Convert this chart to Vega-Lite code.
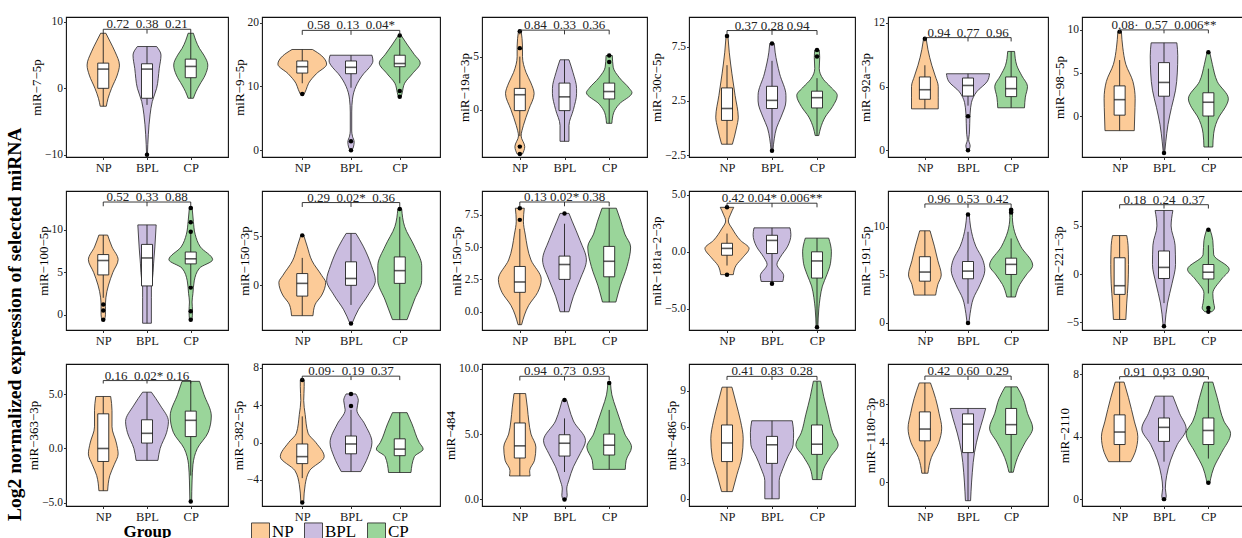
{
"$schema":"https://vega.github.io/schema/vega-lite/v6.json",
"padding":{"left":4,"top":15,"right":0,"bottom":0},
"title":{"text":"Log2 normalized expression of selected miRNA","orient":"left","anchor":"start","fontSize":19.5,"fontWeight":"bold","font":"Liberation Serif","color":"#000","offset":2,"dx":22},
"columns":6,
"spacing":{"row":13,"column":2},
"resolve":{"scale":{"fill":"shared"}},
"config":{
"font":"Liberation Serif",
"view":{"stroke":"#111","strokeWidth":1.1},
"axis":{"grid":false,"domain":false,"ticks":true,"tickSize":2.5,"tickColor":"#333","labelFont":"Liberation Serif","titleFont":"Liberation Serif","labelFontSize":11.5,"labelColor":"#1a1a1a","labelPadding":1,"titleFontSize":13,"titleFontWeight":"normal","titlePadding":1,"titleColor":"#000"},
"axisX":{"labelFontSize":12.5,"labelPadding":2},
"area":{"stroke":"#222","strokeWidth":0.8,"interpolate":"monotone","fillOpacity":1},
"rule":{"color":"#222","strokeWidth":0.9},
"bar":{"fill":"white","stroke":"#222","strokeWidth":0.9,"continuousBandSize":11},
"tick":{"bandSize":11,"thickness":1.6,"color":"#111"},
"circle":{"size":20,"color":"#000","opacity":1},
"line":{"color":"#222","strokeWidth":0.9},
"text":{"font":"Liberation Serif","fontSize":13,"baseline":"alphabetic","dy":-1,"color":"#222"},
"legend":{"orient":"none","legendX":185,"legendY":505,"direction":"horizontal","symbolType":"square","symbolSize":324,"symbolStrokeColor":"#222","symbolStrokeWidth":1,"labelFontSize":17,"labelFont":"Liberation Serif","labelColor":"#000","labelOffset":2,"columnPadding":8}
},
"datasets":{
"d1":[
{"k":"v","g":"NP","y":8.3,"l":0.94,"r":1.06},{"k":"v","g":"NP","y":7,"l":0.84,"r":1.16},{"k":"v","g":"NP","y":5.5,"l":0.73,"r":1.27},{"k":"v","g":"NP","y":3.5,"l":0.63,"r":1.37},{"k":"v","g":"NP","y":2,"l":0.68,"r":1.32},{"k":"v","g":"NP","y":0,"l":0.81,"r":1.19},{"k":"v","g":"NP","y":-1.5,"l":0.89,"r":1.11},{"k":"v","g":"NP","y":-2.7,"l":0.93,"r":1.07},
{"k":"v","g":"BPL","y":6.3,"l":1.78,"r":2.22},{"k":"v","g":"BPL","y":5,"l":1.68,"r":2.32},{"k":"v","g":"BPL","y":3,"l":1.72,"r":2.28},{"k":"v","g":"BPL","y":0,"l":1.78,"r":2.22},{"k":"v","g":"BPL","y":-2,"l":1.88,"r":2.12},{"k":"v","g":"BPL","y":-4,"l":1.93,"r":2.07},{"k":"v","g":"BPL","y":-7,"l":1.97,"r":2.03},{"k":"v","g":"BPL","y":-10,"l":1.99,"r":2.01},
{"k":"v","g":"CP","y":8.3,"l":2.94,"r":3.06},{"k":"v","g":"CP","y":6,"l":2.8,"r":3.2},{"k":"v","g":"CP","y":5,"l":2.7,"r":3.3},{"k":"v","g":"CP","y":3.5,"l":2.61,"r":3.39},{"k":"v","g":"CP","y":2,"l":2.67,"r":3.33},{"k":"v","g":"CP","y":0.5,"l":2.8,"r":3.2},{"k":"v","g":"CP","y":-0.5,"l":2.88,"r":3.12},{"k":"v","g":"CP","y":-1.5,"l":2.94,"r":3.06},
{"k":"b","gi":1,"q1":0,"md":2.9,"q3":3.8,"lo":-2.7,"hi":8.3,"yb":8.9,"yt":8.25},{"k":"b","gi":2,"q1":-1.5,"md":2.9,"q3":3.7,"lo":-2.5,"hi":6.3,"yb":8.9,"yt":8.25,"t":"0.72\u00a0\u00a00.38\u00a0\u00a00.21"},{"k":"b","gi":3,"q1":1.6,"md":3.3,"q3":4.4,"lo":-1.5,"hi":8.3,"yb":8.9,"yt":8.25},
{"k":"o","gi":2,"y":-10}],
"d2":[
{"k":"v","g":"NP","y":15.8,"l":0.79,"r":1.21},{"k":"v","g":"NP","y":14.8,"l":0.6,"r":1.4},{"k":"v","g":"NP","y":13.5,"l":0.5,"r":1.5},{"k":"v","g":"NP","y":12,"l":0.71,"r":1.29},{"k":"v","g":"NP","y":10.5,"l":0.87,"r":1.13},{"k":"v","g":"NP","y":9.5,"l":0.92,"r":1.08},{"k":"v","g":"NP","y":8.8,"l":0.96,"r":1.04},
{"k":"v","g":"BPL","y":14.9,"l":1.57,"r":2.43},{"k":"v","g":"BPL","y":14,"l":1.55,"r":2.45},{"k":"v","g":"BPL","y":13,"l":1.62,"r":2.38},{"k":"v","g":"BPL","y":12,"l":1.74,"r":2.26},{"k":"v","g":"BPL","y":10,"l":1.9,"r":2.1},{"k":"v","g":"BPL","y":8,"l":1.97,"r":2.03},{"k":"v","g":"BPL","y":6,"l":1.985,"r":2.015},{"k":"v","g":"BPL","y":3,"l":1.985,"r":2.015},{"k":"v","g":"BPL","y":2.2,"l":1.97,"r":2.03},{"k":"v","g":"BPL","y":1.3,"l":1.935,"r":2.065},{"k":"v","g":"BPL","y":0.5,"l":1.95,"r":2.05},{"k":"v","g":"BPL","y":0,"l":1.98,"r":2.02},
{"k":"v","g":"CP","y":18,"l":2.97,"r":3.03},{"k":"v","g":"CP","y":16.5,"l":2.84,"r":3.16},{"k":"v","g":"CP","y":15,"l":2.7,"r":3.3},{"k":"v","g":"CP","y":13.7,"l":2.58,"r":3.42},{"k":"v","g":"CP","y":12,"l":2.74,"r":3.26},{"k":"v","g":"CP","y":10.5,"l":2.9,"r":3.1},{"k":"v","g":"CP","y":9,"l":2.95,"r":3.05},{"k":"v","g":"CP","y":8.4,"l":2.97,"r":3.03},
{"k":"b","gi":1,"q1":12.1,"md":13.1,"q3":14,"lo":10.5,"hi":15.8,"yb":18.8,"yt":18.1},{"k":"b","gi":2,"q1":12,"md":13,"q3":14,"lo":9.8,"hi":14.9,"yb":18.8,"yt":18.1,"t":"0.58\u00a0\u00a00.13\u00a0\u00a00.04*"},{"k":"b","gi":3,"q1":13.1,"md":13.6,"q3":14.9,"lo":10.5,"hi":17.5,"yb":18.8,"yt":18.1},
{"k":"o","gi":1,"y":8.8},{"k":"o","gi":2,"y":1.4},{"k":"o","gi":2,"y":0},{"k":"o","gi":3,"y":18},{"k":"o","gi":3,"y":9.3},{"k":"o","gi":3,"y":8.4}],
"d3":[
{"k":"v","g":"NP","y":7.4,"l":0.97,"r":1.03},{"k":"v","g":"NP","y":6,"l":0.94,"r":1.06},{"k":"v","g":"NP","y":5,"l":0.94,"r":1.06},{"k":"v","g":"NP","y":3.5,"l":0.86,"r":1.14},{"k":"v","g":"NP","y":2.5,"l":0.75,"r":1.25},{"k":"v","g":"NP","y":1.5,"l":0.68,"r":1.32},{"k":"v","g":"NP","y":0,"l":0.8,"r":1.2},{"k":"v","g":"NP","y":-1.5,"l":0.92,"r":1.08},{"k":"v","g":"NP","y":-2.5,"l":0.97,"r":1.03},{"k":"v","g":"NP","y":-3.5,"l":0.89,"r":1.11},{"k":"v","g":"NP","y":-4.2,"l":0.94,"r":1.06},
{"k":"v","g":"BPL","y":4.7,"l":1.9,"r":2.1},{"k":"v","g":"BPL","y":3.5,"l":1.81,"r":2.19},{"k":"v","g":"BPL","y":2,"l":1.73,"r":2.27},{"k":"v","g":"BPL","y":1.5,"l":1.73,"r":2.27},{"k":"v","g":"BPL","y":0,"l":1.8,"r":2.2},{"k":"v","g":"BPL","y":-1.5,"l":1.9,"r":2.1},{"k":"v","g":"BPL","y":-3,"l":1.9,"r":2.1},
{"k":"v","g":"CP","y":5.1,"l":2.93,"r":3.07},{"k":"v","g":"CP","y":4,"l":2.91,"r":3.09},{"k":"v","g":"CP","y":3,"l":2.77,"r":3.23},{"k":"v","g":"CP","y":2,"l":2.55,"r":3.45},{"k":"v","g":"CP","y":1.6,"l":2.49,"r":3.51},{"k":"v","g":"CP","y":0.5,"l":2.78,"r":3.22},{"k":"v","g":"CP","y":-0.3,"l":2.9,"r":3.1},{"k":"v","g":"CP","y":-1.3,"l":2.94,"r":3.06},
{"k":"b","gi":1,"q1":-0.1,"md":1.4,"q3":2,"lo":-2.5,"hi":5,"yb":7.5,"yt":7.1},{"k":"b","gi":2,"q1":-0.1,"md":1.2,"q3":2.5,"lo":-3,"hi":4.7,"yb":7.5,"yt":7.1,"t":"0.84\u00a0\u00a00.33\u00a0\u00a00.36"},{"k":"b","gi":3,"q1":1,"md":1.7,"q3":2.5,"lo":-1.3,"hi":4,"yb":7.5,"yt":7.1},
{"k":"o","gi":1,"y":7.4},{"k":"o","gi":1,"y":5.8},{"k":"o","gi":1,"y":-3.5},{"k":"o","gi":1,"y":-4.2},{"k":"o","gi":3,"y":5.1},{"k":"o","gi":3,"y":4.5}],
"d4":[
{"k":"v","g":"NP","y":8.5,"l":0.98,"r":1.02},{"k":"v","g":"NP","y":7,"l":0.95,"r":1.05},{"k":"v","g":"NP","y":5,"l":0.89,"r":1.11},{"k":"v","g":"NP","y":3,"l":0.82,"r":1.18},{"k":"v","g":"NP","y":1,"l":0.75,"r":1.25},{"k":"v","g":"NP","y":0,"l":0.79,"r":1.21},{"k":"v","g":"NP","y":-1.5,"l":0.88,"r":1.12},
{"k":"v","g":"BPL","y":7.8,"l":1.95,"r":2.05},{"k":"v","g":"BPL","y":7,"l":1.93,"r":2.07},{"k":"v","g":"BPL","y":5,"l":1.83,"r":2.17},{"k":"v","g":"BPL","y":3,"l":1.69,"r":2.31},{"k":"v","g":"BPL","y":2.5,"l":1.69,"r":2.31},{"k":"v","g":"BPL","y":1,"l":1.8,"r":2.2},{"k":"v","g":"BPL","y":0,"l":1.9,"r":2.1},{"k":"v","g":"BPL","y":-1,"l":1.95,"r":2.05},{"k":"v","g":"BPL","y":-2.1,"l":1.98,"r":2.02},
{"k":"v","g":"CP","y":7.2,"l":2.95,"r":3.05},{"k":"v","g":"CP","y":6.5,"l":2.94,"r":3.06},{"k":"v","g":"CP","y":5.5,"l":2.95,"r":3.05},{"k":"v","g":"CP","y":4.5,"l":2.86,"r":3.14},{"k":"v","g":"CP","y":3.8,"l":2.7,"r":3.3},{"k":"v","g":"CP","y":3,"l":2.55,"r":3.45},{"k":"v","g":"CP","y":2,"l":2.65,"r":3.35},{"k":"v","g":"CP","y":1,"l":2.82,"r":3.18},{"k":"v","g":"CP","y":0,"l":2.92,"r":3.08},{"k":"v","g":"CP","y":-0.7,"l":2.96,"r":3.04},
{"k":"b","gi":1,"q1":0.7,"md":1.8,"q3":3.7,"lo":-1.5,"hi":5.8,"yb":9,"yt":8.6},{"k":"b","gi":2,"q1":1.8,"md":2.55,"q3":3.85,"lo":-2,"hi":6.2,"yb":9,"yt":8.6,"t":"0.37 0.28 0.94"},{"k":"b","gi":3,"q1":1.85,"md":2.8,"q3":3.4,"lo":-0.7,"hi":4.6,"yb":9,"yt":8.6},
{"k":"o","gi":1,"y":8.5},{"k":"o","gi":2,"y":7.8},{"k":"o","gi":2,"y":-2.1},{"k":"o","gi":3,"y":7.2},{"k":"o","gi":3,"y":6.6}],
"d5":[
{"k":"v","g":"NP","y":10.5,"l":0.97,"r":1.03},{"k":"v","g":"NP","y":9.5,"l":0.93,"r":1.07},{"k":"v","g":"NP","y":8,"l":0.84,"r":1.16},{"k":"v","g":"NP","y":7,"l":0.76,"r":1.24},{"k":"v","g":"NP","y":6,"l":0.69,"r":1.31},{"k":"v","g":"NP","y":5,"l":0.69,"r":1.31},{"k":"v","g":"NP","y":3.9,"l":0.69,"r":1.31},
{"k":"v","g":"BPL","y":7.2,"l":1.5,"r":2.5},{"k":"v","g":"BPL","y":6.5,"l":1.55,"r":2.45},{"k":"v","g":"BPL","y":5.5,"l":1.8,"r":2.2},{"k":"v","g":"BPL","y":4.5,"l":1.92,"r":2.08},{"k":"v","g":"BPL","y":3.5,"l":1.95,"r":2.05},{"k":"v","g":"BPL","y":2.5,"l":1.96,"r":2.04},{"k":"v","g":"BPL","y":1.5,"l":1.97,"r":2.03},{"k":"v","g":"BPL","y":1,"l":1.985,"r":2.015},{"k":"v","g":"BPL","y":0.4,"l":1.95,"r":2.05},{"k":"v","g":"BPL","y":0,"l":1.98,"r":2.02},
{"k":"v","g":"CP","y":9.3,"l":2.92,"r":3.08},{"k":"v","g":"CP","y":8,"l":2.87,"r":3.13},{"k":"v","g":"CP","y":7,"l":2.75,"r":3.25},{"k":"v","g":"CP","y":6,"l":2.62,"r":3.38},{"k":"v","g":"CP","y":5,"l":2.67,"r":3.33},{"k":"v","g":"CP","y":4,"l":2.69,"r":3.31},
{"k":"b","gi":1,"q1":4.8,"md":5.7,"q3":6.9,"lo":3.9,"hi":8,"yb":10.6,"yt":10.24},{"k":"b","gi":2,"q1":5.1,"md":6.1,"q3":6.8,"lo":4.2,"hi":7.2,"yb":10.6,"yt":10.24,"t":"0.94\u00a0\u00a00.77\u00a0\u00a00.96"},{"k":"b","gi":3,"q1":5.05,"md":5.8,"q3":6.9,"lo":4,"hi":9.3,"yb":10.6,"yt":10.24},
{"k":"o","gi":1,"y":10.5},{"k":"o","gi":2,"y":3.2},{"k":"o","gi":2,"y":0}],
"d6":[
{"k":"v","g":"NP","y":9.8,"l":0.96,"r":1.04},{"k":"v","g":"NP","y":8,"l":0.93,"r":1.07},{"k":"v","g":"NP","y":6,"l":0.86,"r":1.14},{"k":"v","g":"NP","y":4,"l":0.7,"r":1.3},{"k":"v","g":"NP","y":2,"l":0.65,"r":1.35},{"k":"v","g":"NP","y":0,"l":0.66,"r":1.34},{"k":"v","g":"NP","y":-1.7,"l":0.67,"r":1.33},
{"k":"v","g":"BPL","y":8.5,"l":1.71,"r":2.29},{"k":"v","g":"BPL","y":7,"l":1.69,"r":2.31},{"k":"v","g":"BPL","y":5,"l":1.7,"r":2.3},{"k":"v","g":"BPL","y":3,"l":1.74,"r":2.26},{"k":"v","g":"BPL","y":1,"l":1.83,"r":2.17},{"k":"v","g":"BPL","y":-1,"l":1.91,"r":2.09},{"k":"v","g":"BPL","y":-3,"l":1.96,"r":2.04},{"k":"v","g":"BPL","y":-4.3,"l":1.985,"r":2.015},
{"k":"v","g":"CP","y":7.4,"l":2.97,"r":3.03},{"k":"v","g":"CP","y":6,"l":2.91,"r":3.09},{"k":"v","g":"CP","y":4,"l":2.8,"r":3.2},{"k":"v","g":"CP","y":2,"l":2.55,"r":3.45},{"k":"v","g":"CP","y":1,"l":2.62,"r":3.38},{"k":"v","g":"CP","y":0,"l":2.75,"r":3.25},{"k":"v","g":"CP","y":-2,"l":2.88,"r":3.12},{"k":"v","g":"CP","y":-3.6,"l":2.9,"r":3.1},
{"k":"b","gi":1,"q1":0.1,"md":1.9,"q3":3.5,"lo":-1.7,"hi":6.5,"yb":10,"yt":9.6},{"k":"b","gi":2,"q1":2.3,"md":3.9,"q3":6.2,"lo":-4.2,"hi":8.5,"yb":10,"yt":9.6,"t":"0.08·\u00a0\u00a00.57\u00a0\u00a00.006**"},{"k":"b","gi":3,"q1":0,"md":1.6,"q3":2.7,"lo":-3.6,"hi":5.5,"yb":10,"yt":9.6},
{"k":"o","gi":1,"y":9.8},{"k":"o","gi":2,"y":-4.3},{"k":"o","gi":3,"y":7.4}],
"d7":[
{"k":"v","g":"NP","y":9.4,"l":0.9,"r":1.1},{"k":"v","g":"NP","y":8,"l":0.8,"r":1.2},{"k":"v","g":"NP","y":6.5,"l":0.66,"r":1.34},{"k":"v","g":"NP","y":5,"l":0.78,"r":1.22},{"k":"v","g":"NP","y":3.5,"l":0.88,"r":1.12},{"k":"v","g":"NP","y":2,"l":0.94,"r":1.06},{"k":"v","g":"NP","y":1,"l":0.95,"r":1.05},{"k":"v","g":"NP","y":0,"l":0.95,"r":1.05},{"k":"v","g":"NP","y":-0.6,"l":0.97,"r":1.03},
{"k":"v","g":"BPL","y":10.6,"l":1.79,"r":2.21},{"k":"v","g":"BPL","y":8,"l":1.82,"r":2.18},{"k":"v","g":"BPL","y":6,"l":1.85,"r":2.15},{"k":"v","g":"BPL","y":4,"l":1.88,"r":2.12},{"k":"v","g":"BPL","y":3.5,"l":1.9,"r":2.1},{"k":"v","g":"BPL","y":2,"l":1.9,"r":2.1},{"k":"v","g":"BPL","y":-1,"l":1.9,"r":2.1},
{"k":"v","g":"CP","y":12.7,"l":2.97,"r":3.03},{"k":"v","g":"CP","y":11,"l":2.94,"r":3.06},{"k":"v","g":"CP","y":9.5,"l":2.9,"r":3.1},{"k":"v","g":"CP","y":8,"l":2.78,"r":3.22},{"k":"v","g":"CP","y":6.5,"l":2.5,"r":3.5},{"k":"v","g":"CP","y":5.5,"l":2.8,"r":3.2},{"k":"v","g":"CP","y":4,"l":2.92,"r":3.08},{"k":"v","g":"CP","y":2.5,"l":2.95,"r":3.05},{"k":"v","g":"CP","y":1.5,"l":2.97,"r":3.03},{"k":"v","g":"CP","y":0.5,"l":2.96,"r":3.04},{"k":"v","g":"CP","y":-0.6,"l":2.97,"r":3.03},
{"k":"b","gi":1,"q1":4.7,"md":6.4,"q3":7.1,"lo":2,"hi":9.4,"yb":13.3,"yt":12.8},{"k":"b","gi":2,"q1":3.4,"md":6.7,"q3":8.3,"lo":-1,"hi":10.6,"yb":13.3,"yt":12.8,"t":"0.52\u00a0\u00a00.33\u00a0\u00a00.88"},{"k":"b","gi":3,"q1":6,"md":6.6,"q3":7.4,"lo":3.5,"hi":9.8,"yb":13.3,"yt":12.8},
{"k":"o","gi":1,"y":1.2},{"k":"o","gi":1,"y":0.5},{"k":"o","gi":1,"y":-0.6},{"k":"o","gi":3,"y":12.6},{"k":"o","gi":3,"y":10.9},{"k":"o","gi":3,"y":9.8},{"k":"o","gi":3,"y":3.2},{"k":"o","gi":3,"y":0.4},{"k":"o","gi":3,"y":-0.6}],
"d8":[
{"k":"v","g":"NP","y":5.1,"l":0.97,"r":1.03},{"k":"v","g":"NP","y":4,"l":0.9,"r":1.1},{"k":"v","g":"NP","y":2.5,"l":0.8,"r":1.2},{"k":"v","g":"NP","y":1,"l":0.6,"r":1.4},{"k":"v","g":"NP","y":0.3,"l":0.52,"r":1.48},{"k":"v","g":"NP","y":-1,"l":0.6,"r":1.4},{"k":"v","g":"NP","y":-2,"l":0.74,"r":1.26},{"k":"v","g":"NP","y":-3.1,"l":0.78,"r":1.22},
{"k":"v","g":"BPL","y":5.3,"l":1.9,"r":2.1},{"k":"v","g":"BPL","y":4,"l":1.75,"r":2.25},{"k":"v","g":"BPL","y":2,"l":1.58,"r":2.42},{"k":"v","g":"BPL","y":0.5,"l":1.5,"r":2.5},{"k":"v","g":"BPL","y":-1,"l":1.65,"r":2.35},{"k":"v","g":"BPL","y":-2.5,"l":1.85,"r":2.15},{"k":"v","g":"BPL","y":-3.8,"l":1.97,"r":2.03},
{"k":"v","g":"CP","y":7.8,"l":2.96,"r":3.04},{"k":"v","g":"CP","y":6,"l":2.9,"r":3.1},{"k":"v","g":"CP","y":4,"l":2.7,"r":3.3},{"k":"v","g":"CP","y":2,"l":2.55,"r":3.45},{"k":"v","g":"CP","y":0.5,"l":2.55,"r":3.45},{"k":"v","g":"CP","y":-1.5,"l":2.7,"r":3.3},{"k":"v","g":"CP","y":-3.5,"l":2.85,"r":3.15},
{"k":"b","gi":1,"q1":-1.1,"md":0.2,"q3":1.2,"lo":-3.1,"hi":2.8,"yb":8.45,"yt":8},{"k":"b","gi":2,"q1":0,"md":0.7,"q3":2.4,"lo":-2,"hi":5.3,"yb":8.45,"yt":8,"t":"0.29\u00a0\u00a00.02*\u00a0\u00a00.36"},{"k":"b","gi":3,"q1":0.2,"md":1.5,"q3":2.9,"lo":-3.5,"hi":7,"yb":8.45,"yt":8},
{"k":"o","gi":1,"y":5.1},{"k":"o","gi":2,"y":-3.9},{"k":"o","gi":3,"y":7.8}],
"d9":[
{"k":"v","g":"NP","y":8,"l":0.9,"r":1.1},{"k":"v","g":"NP","y":7,"l":0.92,"r":1.08},{"k":"v","g":"NP","y":6,"l":0.88,"r":1.12},{"k":"v","g":"NP","y":4,"l":0.75,"r":1.25},{"k":"v","g":"NP","y":2.5,"l":0.52,"r":1.48},{"k":"v","g":"NP","y":1.5,"l":0.6,"r":1.4},{"k":"v","g":"NP","y":0.5,"l":0.8,"r":1.2},{"k":"v","g":"NP","y":-1,"l":0.96,"r":1.04},
{"k":"v","g":"BPL","y":7.6,"l":1.9,"r":2.1},{"k":"v","g":"BPL","y":7,"l":1.83,"r":2.17},{"k":"v","g":"BPL","y":5.5,"l":1.65,"r":2.35},{"k":"v","g":"BPL","y":4,"l":1.51,"r":2.49},{"k":"v","g":"BPL","y":2.5,"l":1.65,"r":2.35},{"k":"v","g":"BPL","y":1.2,"l":1.8,"r":2.2},{"k":"v","g":"BPL","y":0,"l":1.9,"r":2.1},
{"k":"v","g":"CP","y":8,"l":2.84,"r":3.16},{"k":"v","g":"CP","y":7,"l":2.74,"r":3.26},{"k":"v","g":"CP","y":6,"l":2.65,"r":3.35},{"k":"v","g":"CP","y":5,"l":2.52,"r":3.48},{"k":"v","g":"CP","y":3.5,"l":2.6,"r":3.4},{"k":"v","g":"CP","y":2,"l":2.75,"r":3.25},{"k":"v","g":"CP","y":0.75,"l":2.85,"r":3.15},
{"k":"b","gi":1,"q1":1.5,"md":2.3,"q3":3.5,"lo":-1,"hi":6.4,"yb":8.48,"yt":8.15},{"k":"b","gi":2,"q1":2.5,"md":3.65,"q3":4.3,"lo":0,"hi":6.8,"yb":8.48,"yt":8.15,"t":"0.13 0.02* 0.38"},{"k":"b","gi":3,"q1":2.7,"md":3.9,"q3":5.05,"lo":0.75,"hi":8,"yb":8.48,"yt":8.15},
{"k":"o","gi":1,"y":8},{"k":"o","gi":1,"y":7.1},{"k":"o","gi":2,"y":7.6}],
"d10":[
{"k":"v","g":"NP","y":3.9,"l":0.85,"r":1.15},{"k":"v","g":"NP","y":3.3,"l":0.92,"r":1.08},{"k":"v","g":"NP","y":2.7,"l":0.97,"r":1.03},{"k":"v","g":"NP","y":2,"l":0.88,"r":1.12},{"k":"v","g":"NP","y":1,"l":0.7,"r":1.3},{"k":"v","g":"NP","y":0.3,"l":0.51,"r":1.49},{"k":"v","g":"NP","y":-0.5,"l":0.65,"r":1.35},{"k":"v","g":"NP","y":-1.2,"l":0.8,"r":1.2},{"k":"v","g":"NP","y":-2,"l":0.86,"r":1.14},
{"k":"v","g":"BPL","y":2.1,"l":1.6,"r":2.4},{"k":"v","g":"BPL","y":1.5,"l":1.58,"r":2.42},{"k":"v","g":"BPL","y":0.5,"l":1.65,"r":2.35},{"k":"v","g":"BPL","y":-0.5,"l":1.82,"r":2.18},{"k":"v","g":"BPL","y":-1.1,"l":1.89,"r":2.11},{"k":"v","g":"BPL","y":-2.1,"l":1.74,"r":2.26},{"k":"v","g":"BPL","y":-2.6,"l":1.76,"r":2.24},
{"k":"v","g":"CP","y":1.2,"l":2.74,"r":3.26},{"k":"v","g":"CP","y":0,"l":2.68,"r":3.32},{"k":"v","g":"CP","y":-1,"l":2.7,"r":3.3},{"k":"v","g":"CP","y":-2,"l":2.78,"r":3.22},{"k":"v","g":"CP","y":-3,"l":2.88,"r":3.12},{"k":"v","g":"CP","y":-4,"l":2.93,"r":3.07},{"k":"v","g":"CP","y":-5,"l":2.96,"r":3.04},{"k":"v","g":"CP","y":-6.6,"l":2.98,"r":3.02},
{"k":"b","gi":1,"q1":-0.3,"md":0.3,"q3":0.75,"lo":-1.2,"hi":1.6,"yb":4.26,"yt":3.9},{"k":"b","gi":2,"q1":-0.15,"md":1,"q3":1.45,"lo":-2.7,"hi":2.1,"yb":4.26,"yt":3.9,"t":"0.42 0.04* 0.006**"},{"k":"b","gi":3,"q1":-2.3,"md":-0.8,"q3":0,"lo":-6.5,"hi":1.2,"yb":4.26,"yt":3.9},
{"k":"o","gi":1,"y":3.9},{"k":"o","gi":1,"y":-2},{"k":"o","gi":2,"y":-2.8},{"k":"o","gi":3,"y":-6.6}],
"d11":[
{"k":"v","g":"NP","y":9.6,"l":0.88,"r":1.12},{"k":"v","g":"NP","y":8,"l":0.78,"r":1.22},{"k":"v","g":"NP","y":6.5,"l":0.7,"r":1.3},{"k":"v","g":"NP","y":5,"l":0.62,"r":1.38},{"k":"v","g":"NP","y":4,"l":0.7,"r":1.3},{"k":"v","g":"NP","y":2.9,"l":0.75,"r":1.25},
{"k":"v","g":"BPL","y":11.3,"l":1.97,"r":2.03},{"k":"v","g":"BPL","y":10,"l":1.94,"r":2.06},{"k":"v","g":"BPL","y":8,"l":1.82,"r":2.18},{"k":"v","g":"BPL","y":6.5,"l":1.65,"r":2.35},{"k":"v","g":"BPL","y":5.5,"l":1.61,"r":2.39},{"k":"v","g":"BPL","y":4,"l":1.72,"r":2.28},{"k":"v","g":"BPL","y":2.5,"l":1.88,"r":2.12},{"k":"v","g":"BPL","y":1,"l":1.95,"r":2.05},{"k":"v","g":"BPL","y":0,"l":1.98,"r":2.02},
{"k":"v","g":"CP","y":11.8,"l":2.96,"r":3.04},{"k":"v","g":"CP","y":11,"l":2.97,"r":3.03},{"k":"v","g":"CP","y":9.5,"l":2.92,"r":3.08},{"k":"v","g":"CP","y":8,"l":2.78,"r":3.22},{"k":"v","g":"CP","y":6,"l":2.5,"r":3.5},{"k":"v","g":"CP","y":5,"l":2.65,"r":3.35},{"k":"v","g":"CP","y":4,"l":2.8,"r":3.2},{"k":"v","g":"CP","y":2.7,"l":2.9,"r":3.1},
{"k":"b","gi":1,"q1":4.35,"md":5.3,"q3":6.9,"lo":2.9,"hi":9.6,"yb":12.4,"yt":12},{"k":"b","gi":2,"q1":4.6,"md":5.4,"q3":6.4,"lo":2,"hi":9.5,"yb":12.4,"yt":12,"t":"0.96\u00a0\u00a00.53\u00a0\u00a00.42"},{"k":"b","gi":3,"q1":5.05,"md":6.1,"q3":6.75,"lo":2.7,"hi":8.8,"yb":12.4,"yt":12},
{"k":"o","gi":2,"y":11.3},{"k":"o","gi":2,"y":0},{"k":"o","gi":3,"y":11.8},{"k":"o","gi":3,"y":11.5}],
"d12":[
{"k":"v","g":"NP","y":4,"l":0.84,"r":1.16},{"k":"v","g":"NP","y":3,"l":0.81,"r":1.19},{"k":"v","g":"NP","y":1,"l":0.8,"r":1.2},{"k":"v","g":"NP","y":-1,"l":0.81,"r":1.19},{"k":"v","g":"NP","y":-3,"l":0.84,"r":1.16},{"k":"v","g":"NP","y":-4.7,"l":0.86,"r":1.14},
{"k":"v","g":"BPL","y":6.6,"l":1.8,"r":2.2},{"k":"v","g":"BPL","y":5,"l":1.84,"r":2.16},{"k":"v","g":"BPL","y":3,"l":1.75,"r":2.25},{"k":"v","g":"BPL","y":1,"l":1.74,"r":2.26},{"k":"v","g":"BPL","y":-1,"l":1.82,"r":2.18},{"k":"v","g":"BPL","y":-3,"l":1.92,"r":2.08},{"k":"v","g":"BPL","y":-5.3,"l":1.98,"r":2.02},
{"k":"v","g":"CP","y":4.6,"l":2.96,"r":3.04},{"k":"v","g":"CP","y":3.5,"l":2.9,"r":3.1},{"k":"v","g":"CP","y":2,"l":2.88,"r":3.12},{"k":"v","g":"CP","y":0.5,"l":2.53,"r":3.47},{"k":"v","g":"CP","y":-0.5,"l":2.7,"r":3.3},{"k":"v","g":"CP","y":-2,"l":2.9,"r":3.1},{"k":"v","g":"CP","y":-3,"l":2.88,"r":3.12},{"k":"v","g":"CP","y":-3.5,"l":2.86,"r":3.14},{"k":"v","g":"CP","y":-3.9,"l":2.92,"r":3.08},
{"k":"b","gi":1,"q1":-2.1,"md":-1.2,"q3":1.7,"lo":-4.7,"hi":4,"yb":7.2,"yt":6.8},{"k":"b","gi":2,"q1":-0.45,"md":0.7,"q3":2.4,"lo":-3,"hi":6.6,"yb":7.2,"yt":6.8,"t":"0.18\u00a0\u00a00.24\u00a0\u00a00.37"},{"k":"b","gi":3,"q1":-0.5,"md":0.2,"q3":1,"lo":-2,"hi":3,"yb":7.2,"yt":6.8},
{"k":"o","gi":2,"y":-5.4},{"k":"o","gi":3,"y":4.6},{"k":"o","gi":3,"y":-3.5},{"k":"o","gi":3,"y":-3.9}],
"d13":[
{"k":"v","g":"NP","y":4.8,"l":0.83,"r":1.17},{"k":"v","g":"NP","y":3.5,"l":0.8,"r":1.2},{"k":"v","g":"NP","y":2,"l":0.8,"r":1.2},{"k":"v","g":"NP","y":0.5,"l":0.7,"r":1.3},{"k":"v","g":"NP","y":-0.5,"l":0.66,"r":1.34},{"k":"v","g":"NP","y":-1.5,"l":0.75,"r":1.25},{"k":"v","g":"NP","y":-2.5,"l":0.85,"r":1.15},{"k":"v","g":"NP","y":-3.9,"l":0.9,"r":1.1},
{"k":"v","g":"BPL","y":5.2,"l":1.9,"r":2.1},{"k":"v","g":"BPL","y":4,"l":1.7,"r":2.3},{"k":"v","g":"BPL","y":2.5,"l":1.51,"r":2.49},{"k":"v","g":"BPL","y":1.5,"l":1.55,"r":2.45},{"k":"v","g":"BPL","y":0,"l":1.7,"r":2.3},{"k":"v","g":"BPL","y":-1.1,"l":1.75,"r":2.25},
{"k":"v","g":"CP","y":6.2,"l":2.8,"r":3.2},{"k":"v","g":"CP","y":5,"l":2.7,"r":3.3},{"k":"v","g":"CP","y":3,"l":2.53,"r":3.47},{"k":"v","g":"CP","y":1.5,"l":2.6,"r":3.4},{"k":"v","g":"CP","y":0,"l":2.85,"r":3.15},{"k":"v","g":"CP","y":-1.5,"l":2.95,"r":3.05},{"k":"v","g":"CP","y":-3,"l":2.97,"r":3.03},{"k":"v","g":"CP","y":-4.9,"l":2.98,"r":3.02},
{"k":"b","gi":1,"q1":-1.2,"md":0,"q3":3.2,"lo":-3.9,"hi":4.8,"yb":6.27,"yt":6},{"k":"b","gi":2,"q1":0.5,"md":1.4,"q3":2.65,"lo":-1.1,"hi":5.2,"yb":6.27,"yt":6,"t":"0.16\u00a0\u00a00.02*\u00a00.16"},{"k":"b","gi":3,"q1":1.1,"md":2.6,"q3":3.45,"lo":-2.5,"hi":6.2,"yb":6.27,"yt":6},
{"k":"o","gi":3,"y":-4.9}],
"d14":[
{"k":"v","g":"NP","y":6.7,"l":0.96,"r":1.04},{"k":"v","g":"NP","y":6,"l":0.96,"r":1.04},{"k":"v","g":"NP","y":4.5,"l":0.97,"r":1.03},{"k":"v","g":"NP","y":3,"l":0.94,"r":1.06},{"k":"v","g":"NP","y":1,"l":0.88,"r":1.12},{"k":"v","g":"NP","y":0,"l":0.72,"r":1.28},{"k":"v","g":"NP","y":-1.5,"l":0.55,"r":1.45},{"k":"v","g":"NP","y":-3,"l":0.85,"r":1.15},{"k":"v","g":"NP","y":-4.5,"l":0.94,"r":1.06},{"k":"v","g":"NP","y":-6.3,"l":0.97,"r":1.03},
{"k":"v","g":"BPL","y":5.2,"l":1.9,"r":2.1},{"k":"v","g":"BPL","y":4.5,"l":1.85,"r":2.15},{"k":"v","g":"BPL","y":3.5,"l":1.88,"r":2.12},{"k":"v","g":"BPL","y":2,"l":1.72,"r":2.28},{"k":"v","g":"BPL","y":0,"l":1.57,"r":2.43},{"k":"v","g":"BPL","y":-1.5,"l":1.65,"r":2.35},{"k":"v","g":"BPL","y":-3.1,"l":1.8,"r":2.2},
{"k":"v","g":"CP","y":3.2,"l":2.85,"r":3.15},{"k":"v","g":"CP","y":2,"l":2.75,"r":3.25},{"k":"v","g":"CP","y":0,"l":2.6,"r":3.4},{"k":"v","g":"CP","y":-0.7,"l":2.52,"r":3.48},{"k":"v","g":"CP","y":-1.5,"l":2.7,"r":3.3},{"k":"v","g":"CP","y":-3.2,"l":2.77,"r":3.23},
{"k":"b","gi":1,"q1":-2.25,"md":-1.5,"q3":-0.15,"lo":-3.8,"hi":2.8,"yb":7.1,"yt":6.68},{"k":"b","gi":2,"q1":-1.2,"md":-0.15,"q3":0.7,"lo":-3.1,"hi":3.5,"yb":7.1,"yt":6.68,"t":"0.09·\u00a0\u00a00.19\u00a0\u00a00.37"},{"k":"b","gi":3,"q1":-1.4,"md":-0.7,"q3":0.4,"lo":-3.2,"hi":3.2,"yb":7.1,"yt":6.68},
{"k":"o","gi":1,"y":6.7},{"k":"o","gi":1,"y":-6.4},{"k":"o","gi":2,"y":5.2},{"k":"o","gi":2,"y":3.9}],
"d15":[
{"k":"v","g":"NP","y":8.1,"l":0.87,"r":1.13},{"k":"v","g":"NP","y":7,"l":0.83,"r":1.17},{"k":"v","g":"NP","y":6,"l":0.8,"r":1.2},{"k":"v","g":"NP","y":5,"l":0.75,"r":1.25},{"k":"v","g":"NP","y":4,"l":0.64,"r":1.36},{"k":"v","g":"NP","y":3,"l":0.67,"r":1.33},{"k":"v","g":"NP","y":2.2,"l":0.78,"r":1.22},{"k":"v","g":"NP","y":1.8,"l":0.77,"r":1.23},
{"k":"v","g":"BPL","y":7.6,"l":1.95,"r":2.05},{"k":"v","g":"BPL","y":7,"l":1.9,"r":2.1},{"k":"v","g":"BPL","y":6,"l":1.8,"r":2.2},{"k":"v","g":"BPL","y":4.5,"l":1.53,"r":2.47},{"k":"v","g":"BPL","y":3.5,"l":1.65,"r":2.35},{"k":"v","g":"BPL","y":2.5,"l":1.8,"r":2.2},{"k":"v","g":"BPL","y":1.5,"l":1.9,"r":2.1},{"k":"v","g":"BPL","y":0.8,"l":1.95,"r":2.05},{"k":"v","g":"BPL","y":0.3,"l":1.94,"r":2.06},{"k":"v","g":"BPL","y":0,"l":1.97,"r":2.03},
{"k":"v","g":"CP","y":8.9,"l":2.97,"r":3.03},{"k":"v","g":"CP","y":8,"l":2.94,"r":3.06},{"k":"v","g":"CP","y":7,"l":2.85,"r":3.15},{"k":"v","g":"CP","y":6,"l":2.75,"r":3.25},{"k":"v","g":"CP","y":5,"l":2.65,"r":3.35},{"k":"v","g":"CP","y":4,"l":2.5,"r":3.5},{"k":"v","g":"CP","y":3,"l":2.62,"r":3.38},{"k":"v","g":"CP","y":2.3,"l":2.64,"r":3.36},
{"k":"b","gi":1,"q1":3.17,"md":4.1,"q3":5.85,"lo":1.8,"hi":8.1,"yb":9.42,"yt":9.1},{"k":"b","gi":2,"q1":3.32,"md":4.3,"q3":4.95,"lo":2.1,"hi":6.2,"yb":9.42,"yt":9.1,"t":"0.94\u00a0\u00a00.73\u00a0\u00a00.93"},{"k":"b","gi":3,"q1":3.4,"md":4.15,"q3":5,"lo":2.3,"hi":6.85,"yb":9.42,"yt":9.1},
{"k":"o","gi":2,"y":7.6},{"k":"o","gi":2,"y":0},{"k":"o","gi":3,"y":8.9}],
"d16":[
{"k":"v","g":"NP","y":9.3,"l":0.89,"r":1.11},{"k":"v","g":"NP","y":8,"l":0.8,"r":1.2},{"k":"v","g":"NP","y":6.5,"l":0.7,"r":1.3},{"k":"v","g":"NP","y":5,"l":0.64,"r":1.36},{"k":"v","g":"NP","y":3.5,"l":0.67,"r":1.33},{"k":"v","g":"NP","y":2,"l":0.78,"r":1.22},{"k":"v","g":"NP","y":0.6,"l":0.88,"r":1.12},
{"k":"v","g":"BPL","y":6.5,"l":1.55,"r":2.45},{"k":"v","g":"BPL","y":5.5,"l":1.52,"r":2.48},{"k":"v","g":"BPL","y":4.5,"l":1.53,"r":2.47},{"k":"v","g":"BPL","y":3.5,"l":1.65,"r":2.35},{"k":"v","g":"BPL","y":2.5,"l":1.76,"r":2.24},{"k":"v","g":"BPL","y":1.5,"l":1.84,"r":2.16},{"k":"v","g":"BPL","y":0,"l":1.84,"r":2.16},
{"k":"v","g":"CP","y":9.8,"l":2.92,"r":3.08},{"k":"v","g":"CP","y":8.5,"l":2.85,"r":3.15},{"k":"v","g":"CP","y":7,"l":2.75,"r":3.25},{"k":"v","g":"CP","y":5.5,"l":2.65,"r":3.35},{"k":"v","g":"CP","y":4.5,"l":2.53,"r":3.47},{"k":"v","g":"CP","y":3.5,"l":2.7,"r":3.3},{"k":"v","g":"CP","y":2.5,"l":2.85,"r":3.15},{"k":"v","g":"CP","y":1.6,"l":2.9,"r":3.1},
{"k":"b","gi":1,"q1":3.1,"md":4.65,"q3":6.15,"lo":0.6,"hi":9.3,"yb":10.2,"yt":9.9},{"k":"b","gi":2,"q1":2.95,"md":4.5,"q3":5.2,"lo":0,"hi":6.5,"yb":10.2,"yt":9.9,"t":"0.41\u00a0\u00a00.83\u00a0\u00a00.28"},{"k":"b","gi":3,"q1":3.7,"md":4.55,"q3":6.15,"lo":1.6,"hi":9.8,"yb":10.2,"yt":9.9}],
"d17":[
{"k":"v","g":"NP","y":10.1,"l":0.87,"r":1.13},{"k":"v","g":"NP","y":8.5,"l":0.75,"r":1.25},{"k":"v","g":"NP","y":7,"l":0.67,"r":1.33},{"k":"v","g":"NP","y":5.5,"l":0.61,"r":1.39},{"k":"v","g":"NP","y":4,"l":0.68,"r":1.32},{"k":"v","g":"NP","y":2.5,"l":0.85,"r":1.15},{"k":"v","g":"NP","y":0.9,"l":0.93,"r":1.07},
{"k":"v","g":"BPL","y":7.5,"l":1.59,"r":2.41},{"k":"v","g":"BPL","y":6.5,"l":1.65,"r":2.35},{"k":"v","g":"BPL","y":5,"l":1.75,"r":2.25},{"k":"v","g":"BPL","y":3,"l":1.85,"r":2.15},{"k":"v","g":"BPL","y":1,"l":1.9,"r":2.1},{"k":"v","g":"BPL","y":-1,"l":1.93,"r":2.07},{"k":"v","g":"BPL","y":-1.9,"l":1.94,"r":2.06},
{"k":"v","g":"CP","y":9.7,"l":2.86,"r":3.14},{"k":"v","g":"CP","y":8.5,"l":2.72,"r":3.28},{"k":"v","g":"CP","y":7,"l":2.62,"r":3.38},{"k":"v","g":"CP","y":5.5,"l":2.5,"r":3.5},{"k":"v","g":"CP","y":4,"l":2.68,"r":3.32},{"k":"v","g":"CP","y":2.5,"l":2.85,"r":3.15},{"k":"v","g":"CP","y":1,"l":2.95,"r":3.05},
{"k":"b","gi":1,"q1":4.2,"md":5.4,"q3":7.15,"lo":0.9,"hi":10.1,"yb":10.8,"yt":10.4},{"k":"b","gi":2,"q1":3,"md":5.9,"q3":6.95,"lo":-1.9,"hi":7.5,"yb":10.8,"yt":10.4,"t":"0.42\u00a0\u00a00.60\u00a0\u00a00.29"},{"k":"b","gi":3,"q1":4.85,"md":5.85,"q3":7.5,"lo":1,"hi":9.7,"yb":10.8,"yt":10.4}],
"d18":[
{"k":"v","g":"NP","y":7.5,"l":0.9,"r":1.1},{"k":"v","g":"NP","y":6.5,"l":0.8,"r":1.2},{"k":"v","g":"NP","y":5,"l":0.67,"r":1.33},{"k":"v","g":"NP","y":4,"l":0.59,"r":1.41},{"k":"v","g":"NP","y":3,"l":0.65,"r":1.35},{"k":"v","g":"NP","y":2.4,"l":0.75,"r":1.25},
{"k":"v","g":"BPL","y":6.6,"l":1.8,"r":2.2},{"k":"v","g":"BPL","y":5.5,"l":1.65,"r":2.35},{"k":"v","g":"BPL","y":4.5,"l":1.5,"r":2.5},{"k":"v","g":"BPL","y":3.5,"l":1.7,"r":2.3},{"k":"v","g":"BPL","y":2.5,"l":1.85,"r":2.15},{"k":"v","g":"BPL","y":1.5,"l":1.94,"r":2.06},{"k":"v","g":"BPL","y":0.7,"l":1.97,"r":2.03},{"k":"v","g":"BPL","y":0.2,"l":1.95,"r":2.05},{"k":"v","g":"BPL","y":-0.05,"l":1.97,"r":2.03},
{"k":"v","g":"CP","y":7.5,"l":2.9,"r":3.1},{"k":"v","g":"CP","y":6.5,"l":2.8,"r":3.2},{"k":"v","g":"CP","y":5,"l":2.65,"r":3.35},{"k":"v","g":"CP","y":4.2,"l":2.5,"r":3.5},{"k":"v","g":"CP","y":3,"l":2.7,"r":3.3},{"k":"v","g":"CP","y":2,"l":2.88,"r":3.12},{"k":"v","g":"CP","y":1.3,"l":2.95,"r":3.05},{"k":"v","g":"CP","y":1,"l":2.97,"r":3.03},
{"k":"b","gi":1,"q1":3.5,"md":4.3,"q3":5.4,"lo":2.4,"hi":7.5,"yb":7.85,"yt":7.67},{"k":"b","gi":2,"q1":3.7,"md":4.6,"q3":5.2,"lo":2.4,"hi":6.6,"yb":7.85,"yt":7.67,"t":"0.91\u00a0\u00a00.93\u00a0\u00a00.90"},{"k":"b","gi":3,"q1":3.5,"md":4.4,"q3":5.2,"lo":2.6,"hi":7.5,"yb":7.85,"yt":7.67},
{"k":"o","gi":2,"y":0},{"k":"o","gi":3,"y":1.05}]
},
"concat":[
{"width":162,"height":140,"data":{"name":"d1"},"layer":[
{"transform":[{"filter":"datum.k=='v'"}],"mark":{"type":"area","orient":"horizontal"},"encoding":{"y":{"field":"y","type":"quantitative","scale":{"domain":[-10.35,10.75],"nice":false,"zero":false},"axis":{"values":[-10,-5,0,5,10],"title":"miR−7−5p"}},"x":{"field":"l","type":"quantitative","scale":{"domain":[0.4,3.6],"nice":false,"zero":false},"axis":{"values":[1,2,3],"labelExpr":"datum.value==1?'NP':datum.value==2?'BPL':'CP'","title":null}},"x2":{"field":"r"},"fill":{"field":"g","type":"nominal","title":null,"scale":{"domain":["NP","BPL","CP"],"range":["#FCCB98","#CBBDE0","#9AD59A"]}}}},
{"transform":[{"filter":"datum.k=='b'"}],"mark":"rule","encoding":{"x":{"field":"gi","type":"quantitative"},"y":{"field":"lo","type":"quantitative"},"y2":{"field":"hi"}}},
{"transform":[{"filter":"datum.k=='b'"}],"mark":"bar","encoding":{"x":{"field":"gi","type":"quantitative"},"y":{"field":"q1","type":"quantitative"},"y2":{"field":"q3"}}},
{"transform":[{"filter":"datum.k=='b'"}],"mark":{"type":"tick","orient":"horizontal","size":11},"encoding":{"x":{"field":"gi","type":"quantitative"},"y":{"field":"md","type":"quantitative"}}},
{"transform":[{"filter":"datum.k=='o'"}],"mark":"circle","encoding":{"x":{"field":"gi","type":"quantitative"},"y":{"field":"y","type":"quantitative"}}},
{"transform":[{"filter":"datum.k=='b'"}],"mark":"line","encoding":{"x":{"field":"gi","type":"quantitative"},"y":{"field":"yb","type":"quantitative"}}},
{"transform":[{"filter":"datum.k=='b'"}],"mark":"rule","encoding":{"x":{"field":"gi","type":"quantitative"},"y":{"field":"yb","type":"quantitative"},"y2":{"field":"yt"}}},
{"transform":[{"filter":"datum.t"}],"mark":"text","encoding":{"x":{"field":"gi","type":"quantitative"},"y":{"field":"yb","type":"quantitative"},"text":{"field":"t"}}}]},
{"width":178,"height":140,"data":{"name":"d2"},"layer":[
{"transform":[{"filter":"datum.k=='v'"}],"mark":{"type":"area","orient":"horizontal"},"encoding":{"y":{"field":"y","type":"quantitative","scale":{"domain":[-1.07,20.9],"nice":false,"zero":false},"axis":{"values":[0,5,10,15,20],"title":"miR−9−5p"}},"x":{"field":"l","type":"quantitative","scale":{"domain":[0.4,3.6],"nice":false,"zero":false},"axis":{"values":[1,2,3],"labelExpr":"datum.value==1?'NP':datum.value==2?'BPL':'CP'","title":null}},"x2":{"field":"r"},"fill":{"field":"g","type":"nominal","title":null,"scale":{"domain":["NP","BPL","CP"],"range":["#FCCB98","#CBBDE0","#9AD59A"]}}}},
{"transform":[{"filter":"datum.k=='b'"}],"mark":"rule","encoding":{"x":{"field":"gi","type":"quantitative"},"y":{"field":"lo","type":"quantitative"},"y2":{"field":"hi"}}},
{"transform":[{"filter":"datum.k=='b'"}],"mark":"bar","encoding":{"x":{"field":"gi","type":"quantitative"},"y":{"field":"q1","type":"quantitative"},"y2":{"field":"q3"}}},
{"transform":[{"filter":"datum.k=='b'"}],"mark":{"type":"tick","orient":"horizontal","size":11},"encoding":{"x":{"field":"gi","type":"quantitative"},"y":{"field":"md","type":"quantitative"}}},
{"transform":[{"filter":"datum.k=='o'"}],"mark":"circle","encoding":{"x":{"field":"gi","type":"quantitative"},"y":{"field":"y","type":"quantitative"}}},
{"transform":[{"filter":"datum.k=='b'"}],"mark":"line","encoding":{"x":{"field":"gi","type":"quantitative"},"y":{"field":"yb","type":"quantitative"}}},
{"transform":[{"filter":"datum.k=='b'"}],"mark":"rule","encoding":{"x":{"field":"gi","type":"quantitative"},"y":{"field":"yb","type":"quantitative"},"y2":{"field":"yt"}}},
{"transform":[{"filter":"datum.t"}],"mark":"text","encoding":{"x":{"field":"gi","type":"quantitative"},"y":{"field":"yb","type":"quantitative"},"text":{"field":"t"}}}]},
{"width":165,"height":140,"data":{"name":"d3"},"layer":[
{"transform":[{"filter":"datum.k=='v'"}],"mark":{"type":"area","orient":"horizontal"},"encoding":{"y":{"field":"y","type":"quantitative","scale":{"domain":[-4.48,8.74],"nice":false,"zero":false},"axis":{"values":[0,5],"title":"miR−19a−3p"}},"x":{"field":"l","type":"quantitative","scale":{"domain":[0.4,3.6],"nice":false,"zero":false},"axis":{"values":[1,2,3],"labelExpr":"datum.value==1?'NP':datum.value==2?'BPL':'CP'","title":null}},"x2":{"field":"r"},"fill":{"field":"g","type":"nominal","title":null,"scale":{"domain":["NP","BPL","CP"],"range":["#FCCB98","#CBBDE0","#9AD59A"]}}}},
{"transform":[{"filter":"datum.k=='b'"}],"mark":"rule","encoding":{"x":{"field":"gi","type":"quantitative"},"y":{"field":"lo","type":"quantitative"},"y2":{"field":"hi"}}},
{"transform":[{"filter":"datum.k=='b'"}],"mark":"bar","encoding":{"x":{"field":"gi","type":"quantitative"},"y":{"field":"q1","type":"quantitative"},"y2":{"field":"q3"}}},
{"transform":[{"filter":"datum.k=='b'"}],"mark":{"type":"tick","orient":"horizontal","size":11},"encoding":{"x":{"field":"gi","type":"quantitative"},"y":{"field":"md","type":"quantitative"}}},
{"transform":[{"filter":"datum.k=='o'"}],"mark":"circle","encoding":{"x":{"field":"gi","type":"quantitative"},"y":{"field":"y","type":"quantitative"}}},
{"transform":[{"filter":"datum.k=='b'"}],"mark":"line","encoding":{"x":{"field":"gi","type":"quantitative"},"y":{"field":"yb","type":"quantitative"}}},
{"transform":[{"filter":"datum.k=='b'"}],"mark":"rule","encoding":{"x":{"field":"gi","type":"quantitative"},"y":{"field":"yb","type":"quantitative"},"y2":{"field":"yt"}}},
{"transform":[{"filter":"datum.t"}],"mark":"text","encoding":{"x":{"field":"gi","type":"quantitative"},"y":{"field":"yb","type":"quantitative"},"text":{"field":"t"}}}]},
{"width":166,"height":140,"data":{"name":"d4"},"layer":[
{"transform":[{"filter":"datum.k=='v'"}],"mark":{"type":"area","orient":"horizontal"},"encoding":{"y":{"field":"y","type":"quantitative","scale":{"domain":[-2.68,10.25],"nice":false,"zero":false},"axis":{"values":[-2.5,0,2.5,5,7.5],"format":".1f","title":"miR−30c−5p"}},"x":{"field":"l","type":"quantitative","scale":{"domain":[0.4,3.6],"nice":false,"zero":false},"axis":{"values":[1,2,3],"labelExpr":"datum.value==1?'NP':datum.value==2?'BPL':'CP'","title":null}},"x2":{"field":"r"},"fill":{"field":"g","type":"nominal","title":null,"scale":{"domain":["NP","BPL","CP"],"range":["#FCCB98","#CBBDE0","#9AD59A"]}}}},
{"transform":[{"filter":"datum.k=='b'"}],"mark":"rule","encoding":{"x":{"field":"gi","type":"quantitative"},"y":{"field":"lo","type":"quantitative"},"y2":{"field":"hi"}}},
{"transform":[{"filter":"datum.k=='b'"}],"mark":"bar","encoding":{"x":{"field":"gi","type":"quantitative"},"y":{"field":"q1","type":"quantitative"},"y2":{"field":"q3"}}},
{"transform":[{"filter":"datum.k=='b'"}],"mark":{"type":"tick","orient":"horizontal","size":11},"encoding":{"x":{"field":"gi","type":"quantitative"},"y":{"field":"md","type":"quantitative"}}},
{"transform":[{"filter":"datum.k=='o'"}],"mark":"circle","encoding":{"x":{"field":"gi","type":"quantitative"},"y":{"field":"y","type":"quantitative"}}},
{"transform":[{"filter":"datum.k=='b'"}],"mark":"line","encoding":{"x":{"field":"gi","type":"quantitative"},"y":{"field":"yb","type":"quantitative"}}},
{"transform":[{"filter":"datum.k=='b'"}],"mark":"rule","encoding":{"x":{"field":"gi","type":"quantitative"},"y":{"field":"yb","type":"quantitative"},"y2":{"field":"yt"}}},
{"transform":[{"filter":"datum.t"}],"mark":"text","encoding":{"x":{"field":"gi","type":"quantitative"},"y":{"field":"yb","type":"quantitative"},"text":{"field":"t"}}}]},
{"width":160,"height":140,"data":{"name":"d5"},"layer":[
{"transform":[{"filter":"datum.k=='v'"}],"mark":{"type":"area","orient":"horizontal"},"encoding":{"y":{"field":"y","type":"quantitative","scale":{"domain":[-0.63,12.54],"nice":false,"zero":false},"axis":{"values":[0,3,6,9,12],"title":"miR−92a−3p"}},"x":{"field":"l","type":"quantitative","scale":{"domain":[0.4,3.6],"nice":false,"zero":false},"axis":{"values":[1,2,3],"labelExpr":"datum.value==1?'NP':datum.value==2?'BPL':'CP'","title":null}},"x2":{"field":"r"},"fill":{"field":"g","type":"nominal","title":null,"scale":{"domain":["NP","BPL","CP"],"range":["#FCCB98","#CBBDE0","#9AD59A"]}}}},
{"transform":[{"filter":"datum.k=='b'"}],"mark":"rule","encoding":{"x":{"field":"gi","type":"quantitative"},"y":{"field":"lo","type":"quantitative"},"y2":{"field":"hi"}}},
{"transform":[{"filter":"datum.k=='b'"}],"mark":"bar","encoding":{"x":{"field":"gi","type":"quantitative"},"y":{"field":"q1","type":"quantitative"},"y2":{"field":"q3"}}},
{"transform":[{"filter":"datum.k=='b'"}],"mark":{"type":"tick","orient":"horizontal","size":11},"encoding":{"x":{"field":"gi","type":"quantitative"},"y":{"field":"md","type":"quantitative"}}},
{"transform":[{"filter":"datum.k=='o'"}],"mark":"circle","encoding":{"x":{"field":"gi","type":"quantitative"},"y":{"field":"y","type":"quantitative"}}},
{"transform":[{"filter":"datum.k=='b'"}],"mark":"line","encoding":{"x":{"field":"gi","type":"quantitative"},"y":{"field":"yb","type":"quantitative"}}},
{"transform":[{"filter":"datum.k=='b'"}],"mark":"rule","encoding":{"x":{"field":"gi","type":"quantitative"},"y":{"field":"yb","type":"quantitative"},"y2":{"field":"yt"}}},
{"transform":[{"filter":"datum.t"}],"mark":"text","encoding":{"x":{"field":"gi","type":"quantitative"},"y":{"field":"yb","type":"quantitative"},"text":{"field":"t"}}}]},
{"width":164,"height":140,"data":{"name":"d6"},"layer":[
{"transform":[{"filter":"datum.k=='v'"}],"mark":{"type":"area","orient":"horizontal"},"encoding":{"y":{"field":"y","type":"quantitative","scale":{"domain":[-4.76,11.5],"nice":false,"zero":false},"axis":{"values":[0,5,10],"title":"miR−98−5p"}},"x":{"field":"l","type":"quantitative","scale":{"domain":[0.4,3.6],"nice":false,"zero":false},"axis":{"values":[1,2,3],"labelExpr":"datum.value==1?'NP':datum.value==2?'BPL':'CP'","title":null}},"x2":{"field":"r"},"fill":{"field":"g","type":"nominal","title":null,"scale":{"domain":["NP","BPL","CP"],"range":["#FCCB98","#CBBDE0","#9AD59A"]}}}},
{"transform":[{"filter":"datum.k=='b'"}],"mark":"rule","encoding":{"x":{"field":"gi","type":"quantitative"},"y":{"field":"lo","type":"quantitative"},"y2":{"field":"hi"}}},
{"transform":[{"filter":"datum.k=='b'"}],"mark":"bar","encoding":{"x":{"field":"gi","type":"quantitative"},"y":{"field":"q1","type":"quantitative"},"y2":{"field":"q3"}}},
{"transform":[{"filter":"datum.k=='b'"}],"mark":{"type":"tick","orient":"horizontal","size":11},"encoding":{"x":{"field":"gi","type":"quantitative"},"y":{"field":"md","type":"quantitative"}}},
{"transform":[{"filter":"datum.k=='o'"}],"mark":"circle","encoding":{"x":{"field":"gi","type":"quantitative"},"y":{"field":"y","type":"quantitative"}}},
{"transform":[{"filter":"datum.k=='b'"}],"mark":"line","encoding":{"x":{"field":"gi","type":"quantitative"},"y":{"field":"yb","type":"quantitative"}}},
{"transform":[{"filter":"datum.k=='b'"}],"mark":"rule","encoding":{"x":{"field":"gi","type":"quantitative"},"y":{"field":"yb","type":"quantitative"},"y2":{"field":"yt"}}},
{"transform":[{"filter":"datum.t"}],"mark":"text","encoding":{"x":{"field":"gi","type":"quantitative"},"y":{"field":"yb","type":"quantitative"},"text":{"field":"t"}}}]},
{"width":162,"height":139,"data":{"name":"d7"},"layer":[
{"transform":[{"filter":"datum.k=='v'"}],"mark":{"type":"area","orient":"horizontal"},"encoding":{"y":{"field":"y","type":"quantitative","scale":{"domain":[-1.8,14.6],"nice":false,"zero":false},"axis":{"values":[0,5,10],"title":"miR−100−5p"}},"x":{"field":"l","type":"quantitative","scale":{"domain":[0.4,3.6],"nice":false,"zero":false},"axis":{"values":[1,2,3],"labelExpr":"datum.value==1?'NP':datum.value==2?'BPL':'CP'","title":null}},"x2":{"field":"r"},"fill":{"field":"g","type":"nominal","title":null,"scale":{"domain":["NP","BPL","CP"],"range":["#FCCB98","#CBBDE0","#9AD59A"]}}}},
{"transform":[{"filter":"datum.k=='b'"}],"mark":"rule","encoding":{"x":{"field":"gi","type":"quantitative"},"y":{"field":"lo","type":"quantitative"},"y2":{"field":"hi"}}},
{"transform":[{"filter":"datum.k=='b'"}],"mark":"bar","encoding":{"x":{"field":"gi","type":"quantitative"},"y":{"field":"q1","type":"quantitative"},"y2":{"field":"q3"}}},
{"transform":[{"filter":"datum.k=='b'"}],"mark":{"type":"tick","orient":"horizontal","size":11},"encoding":{"x":{"field":"gi","type":"quantitative"},"y":{"field":"md","type":"quantitative"}}},
{"transform":[{"filter":"datum.k=='o'"}],"mark":"circle","encoding":{"x":{"field":"gi","type":"quantitative"},"y":{"field":"y","type":"quantitative"}}},
{"transform":[{"filter":"datum.k=='b'"}],"mark":"line","encoding":{"x":{"field":"gi","type":"quantitative"},"y":{"field":"yb","type":"quantitative"}}},
{"transform":[{"filter":"datum.k=='b'"}],"mark":"rule","encoding":{"x":{"field":"gi","type":"quantitative"},"y":{"field":"yb","type":"quantitative"},"y2":{"field":"yt"}}},
{"transform":[{"filter":"datum.t"}],"mark":"text","encoding":{"x":{"field":"gi","type":"quantitative"},"y":{"field":"yb","type":"quantitative"},"text":{"field":"t"}}}]},
{"width":178,"height":139,"data":{"name":"d8"},"layer":[
{"transform":[{"filter":"datum.k=='v'"}],"mark":{"type":"area","orient":"horizontal"},"encoding":{"y":{"field":"y","type":"quantitative","scale":{"domain":[-4.56,9.63],"nice":false,"zero":false},"axis":{"values":[0,5],"title":"miR−150−3p"}},"x":{"field":"l","type":"quantitative","scale":{"domain":[0.4,3.6],"nice":false,"zero":false},"axis":{"values":[1,2,3],"labelExpr":"datum.value==1?'NP':datum.value==2?'BPL':'CP'","title":null}},"x2":{"field":"r"},"fill":{"field":"g","type":"nominal","title":null,"scale":{"domain":["NP","BPL","CP"],"range":["#FCCB98","#CBBDE0","#9AD59A"]}}}},
{"transform":[{"filter":"datum.k=='b'"}],"mark":"rule","encoding":{"x":{"field":"gi","type":"quantitative"},"y":{"field":"lo","type":"quantitative"},"y2":{"field":"hi"}}},
{"transform":[{"filter":"datum.k=='b'"}],"mark":"bar","encoding":{"x":{"field":"gi","type":"quantitative"},"y":{"field":"q1","type":"quantitative"},"y2":{"field":"q3"}}},
{"transform":[{"filter":"datum.k=='b'"}],"mark":{"type":"tick","orient":"horizontal","size":11},"encoding":{"x":{"field":"gi","type":"quantitative"},"y":{"field":"md","type":"quantitative"}}},
{"transform":[{"filter":"datum.k=='o'"}],"mark":"circle","encoding":{"x":{"field":"gi","type":"quantitative"},"y":{"field":"y","type":"quantitative"}}},
{"transform":[{"filter":"datum.k=='b'"}],"mark":"line","encoding":{"x":{"field":"gi","type":"quantitative"},"y":{"field":"yb","type":"quantitative"}}},
{"transform":[{"filter":"datum.k=='b'"}],"mark":"rule","encoding":{"x":{"field":"gi","type":"quantitative"},"y":{"field":"yb","type":"quantitative"},"y2":{"field":"yt"}}},
{"transform":[{"filter":"datum.t"}],"mark":"text","encoding":{"x":{"field":"gi","type":"quantitative"},"y":{"field":"yb","type":"quantitative"},"text":{"field":"t"}}}]},
{"width":165,"height":139,"data":{"name":"d9"},"layer":[
{"transform":[{"filter":"datum.k=='v'"}],"mark":{"type":"area","orient":"horizontal"},"encoding":{"y":{"field":"y","type":"quantitative","scale":{"domain":[-1.41,9.33],"nice":false,"zero":false},"axis":{"values":[0,2.5,5,7.5],"format":".1f","title":"miR−150−5p"}},"x":{"field":"l","type":"quantitative","scale":{"domain":[0.4,3.6],"nice":false,"zero":false},"axis":{"values":[1,2,3],"labelExpr":"datum.value==1?'NP':datum.value==2?'BPL':'CP'","title":null}},"x2":{"field":"r"},"fill":{"field":"g","type":"nominal","title":null,"scale":{"domain":["NP","BPL","CP"],"range":["#FCCB98","#CBBDE0","#9AD59A"]}}}},
{"transform":[{"filter":"datum.k=='b'"}],"mark":"rule","encoding":{"x":{"field":"gi","type":"quantitative"},"y":{"field":"lo","type":"quantitative"},"y2":{"field":"hi"}}},
{"transform":[{"filter":"datum.k=='b'"}],"mark":"bar","encoding":{"x":{"field":"gi","type":"quantitative"},"y":{"field":"q1","type":"quantitative"},"y2":{"field":"q3"}}},
{"transform":[{"filter":"datum.k=='b'"}],"mark":{"type":"tick","orient":"horizontal","size":11},"encoding":{"x":{"field":"gi","type":"quantitative"},"y":{"field":"md","type":"quantitative"}}},
{"transform":[{"filter":"datum.k=='o'"}],"mark":"circle","encoding":{"x":{"field":"gi","type":"quantitative"},"y":{"field":"y","type":"quantitative"}}},
{"transform":[{"filter":"datum.k=='b'"}],"mark":"line","encoding":{"x":{"field":"gi","type":"quantitative"},"y":{"field":"yb","type":"quantitative"}}},
{"transform":[{"filter":"datum.k=='b'"}],"mark":"rule","encoding":{"x":{"field":"gi","type":"quantitative"},"y":{"field":"yb","type":"quantitative"},"y2":{"field":"yt"}}},
{"transform":[{"filter":"datum.t"}],"mark":"text","encoding":{"x":{"field":"gi","type":"quantitative"},"y":{"field":"yb","type":"quantitative"},"text":{"field":"t"}}}]},
{"width":166,"height":139,"data":{"name":"d10"},"layer":[
{"transform":[{"filter":"datum.k=='v'"}],"mark":{"type":"area","orient":"horizontal"},"encoding":{"y":{"field":"y","type":"quantitative","scale":{"domain":[-6.85,5.33],"nice":false,"zero":false},"axis":{"values":[-5,-2.5,0,2.5,5],"format":".1f","title":"miR−181a−2−3p"}},"x":{"field":"l","type":"quantitative","scale":{"domain":[0.4,3.6],"nice":false,"zero":false},"axis":{"values":[1,2,3],"labelExpr":"datum.value==1?'NP':datum.value==2?'BPL':'CP'","title":null}},"x2":{"field":"r"},"fill":{"field":"g","type":"nominal","title":null,"scale":{"domain":["NP","BPL","CP"],"range":["#FCCB98","#CBBDE0","#9AD59A"]}}}},
{"transform":[{"filter":"datum.k=='b'"}],"mark":"rule","encoding":{"x":{"field":"gi","type":"quantitative"},"y":{"field":"lo","type":"quantitative"},"y2":{"field":"hi"}}},
{"transform":[{"filter":"datum.k=='b'"}],"mark":"bar","encoding":{"x":{"field":"gi","type":"quantitative"},"y":{"field":"q1","type":"quantitative"},"y2":{"field":"q3"}}},
{"transform":[{"filter":"datum.k=='b'"}],"mark":{"type":"tick","orient":"horizontal","size":11},"encoding":{"x":{"field":"gi","type":"quantitative"},"y":{"field":"md","type":"quantitative"}}},
{"transform":[{"filter":"datum.k=='o'"}],"mark":"circle","encoding":{"x":{"field":"gi","type":"quantitative"},"y":{"field":"y","type":"quantitative"}}},
{"transform":[{"filter":"datum.k=='b'"}],"mark":"line","encoding":{"x":{"field":"gi","type":"quantitative"},"y":{"field":"yb","type":"quantitative"}}},
{"transform":[{"filter":"datum.k=='b'"}],"mark":"rule","encoding":{"x":{"field":"gi","type":"quantitative"},"y":{"field":"yb","type":"quantitative"},"y2":{"field":"yt"}}},
{"transform":[{"filter":"datum.t"}],"mark":"text","encoding":{"x":{"field":"gi","type":"quantitative"},"y":{"field":"yb","type":"quantitative"},"text":{"field":"t"}}}]},
{"width":160,"height":139,"data":{"name":"d11"},"layer":[
{"transform":[{"filter":"datum.k=='v'"}],"mark":{"type":"area","orient":"horizontal"},"encoding":{"y":{"field":"y","type":"quantitative","scale":{"domain":[-0.74,13.75],"nice":false,"zero":false},"axis":{"values":[0,5,10],"title":"miR−191−5p"}},"x":{"field":"l","type":"quantitative","scale":{"domain":[0.4,3.6],"nice":false,"zero":false},"axis":{"values":[1,2,3],"labelExpr":"datum.value==1?'NP':datum.value==2?'BPL':'CP'","title":null}},"x2":{"field":"r"},"fill":{"field":"g","type":"nominal","title":null,"scale":{"domain":["NP","BPL","CP"],"range":["#FCCB98","#CBBDE0","#9AD59A"]}}}},
{"transform":[{"filter":"datum.k=='b'"}],"mark":"rule","encoding":{"x":{"field":"gi","type":"quantitative"},"y":{"field":"lo","type":"quantitative"},"y2":{"field":"hi"}}},
{"transform":[{"filter":"datum.k=='b'"}],"mark":"bar","encoding":{"x":{"field":"gi","type":"quantitative"},"y":{"field":"q1","type":"quantitative"},"y2":{"field":"q3"}}},
{"transform":[{"filter":"datum.k=='b'"}],"mark":{"type":"tick","orient":"horizontal","size":11},"encoding":{"x":{"field":"gi","type":"quantitative"},"y":{"field":"md","type":"quantitative"}}},
{"transform":[{"filter":"datum.k=='o'"}],"mark":"circle","encoding":{"x":{"field":"gi","type":"quantitative"},"y":{"field":"y","type":"quantitative"}}},
{"transform":[{"filter":"datum.k=='b'"}],"mark":"line","encoding":{"x":{"field":"gi","type":"quantitative"},"y":{"field":"yb","type":"quantitative"}}},
{"transform":[{"filter":"datum.k=='b'"}],"mark":"rule","encoding":{"x":{"field":"gi","type":"quantitative"},"y":{"field":"yb","type":"quantitative"},"y2":{"field":"yt"}}},
{"transform":[{"filter":"datum.t"}],"mark":"text","encoding":{"x":{"field":"gi","type":"quantitative"},"y":{"field":"yb","type":"quantitative"},"text":{"field":"t"}}}]},
{"width":164,"height":139,"data":{"name":"d12"},"layer":[
{"transform":[{"filter":"datum.k=='v'"}],"mark":{"type":"area","orient":"horizontal"},"encoding":{"y":{"field":"y","type":"quantitative","scale":{"domain":[-5.79,8.62],"nice":false,"zero":false},"axis":{"values":[-5,0,5],"title":"miR−221−3p"}},"x":{"field":"l","type":"quantitative","scale":{"domain":[0.4,3.6],"nice":false,"zero":false},"axis":{"values":[1,2,3],"labelExpr":"datum.value==1?'NP':datum.value==2?'BPL':'CP'","title":null}},"x2":{"field":"r"},"fill":{"field":"g","type":"nominal","title":null,"scale":{"domain":["NP","BPL","CP"],"range":["#FCCB98","#CBBDE0","#9AD59A"]}}}},
{"transform":[{"filter":"datum.k=='b'"}],"mark":"rule","encoding":{"x":{"field":"gi","type":"quantitative"},"y":{"field":"lo","type":"quantitative"},"y2":{"field":"hi"}}},
{"transform":[{"filter":"datum.k=='b'"}],"mark":"bar","encoding":{"x":{"field":"gi","type":"quantitative"},"y":{"field":"q1","type":"quantitative"},"y2":{"field":"q3"}}},
{"transform":[{"filter":"datum.k=='b'"}],"mark":{"type":"tick","orient":"horizontal","size":11},"encoding":{"x":{"field":"gi","type":"quantitative"},"y":{"field":"md","type":"quantitative"}}},
{"transform":[{"filter":"datum.k=='o'"}],"mark":"circle","encoding":{"x":{"field":"gi","type":"quantitative"},"y":{"field":"y","type":"quantitative"}}},
{"transform":[{"filter":"datum.k=='b'"}],"mark":"line","encoding":{"x":{"field":"gi","type":"quantitative"},"y":{"field":"yb","type":"quantitative"}}},
{"transform":[{"filter":"datum.k=='b'"}],"mark":"rule","encoding":{"x":{"field":"gi","type":"quantitative"},"y":{"field":"yb","type":"quantitative"},"y2":{"field":"yt"}}},
{"transform":[{"filter":"datum.t"}],"mark":"text","encoding":{"x":{"field":"gi","type":"quantitative"},"y":{"field":"yb","type":"quantitative"},"text":{"field":"t"}}}]},
{"width":162,"height":142,"data":{"name":"d13"},"layer":[
{"transform":[{"filter":"datum.k=='v'"}],"mark":{"type":"area","orient":"horizontal"},"encoding":{"y":{"field":"y","type":"quantitative","scale":{"domain":[-5.31,7.8],"nice":false,"zero":false},"axis":{"values":[-5,-2.5,0,2.5,5],"format":".1f","title":"miR−363−3p"}},"x":{"field":"l","type":"quantitative","scale":{"domain":[0.4,3.6],"nice":false,"zero":false},"axis":{"values":[1,2,3],"labelExpr":"datum.value==1?'NP':datum.value==2?'BPL':'CP'","title":"Group","titleFontSize":17,"titleFontWeight":"bold","titlePadding":0}},"x2":{"field":"r"},"fill":{"field":"g","type":"nominal","title":null,"scale":{"domain":["NP","BPL","CP"],"range":["#FCCB98","#CBBDE0","#9AD59A"]}}}},
{"transform":[{"filter":"datum.k=='b'"}],"mark":"rule","encoding":{"x":{"field":"gi","type":"quantitative"},"y":{"field":"lo","type":"quantitative"},"y2":{"field":"hi"}}},
{"transform":[{"filter":"datum.k=='b'"}],"mark":"bar","encoding":{"x":{"field":"gi","type":"quantitative"},"y":{"field":"q1","type":"quantitative"},"y2":{"field":"q3"}}},
{"transform":[{"filter":"datum.k=='b'"}],"mark":{"type":"tick","orient":"horizontal","size":11},"encoding":{"x":{"field":"gi","type":"quantitative"},"y":{"field":"md","type":"quantitative"}}},
{"transform":[{"filter":"datum.k=='o'"}],"mark":"circle","encoding":{"x":{"field":"gi","type":"quantitative"},"y":{"field":"y","type":"quantitative"}}},
{"transform":[{"filter":"datum.k=='b'"}],"mark":"line","encoding":{"x":{"field":"gi","type":"quantitative"},"y":{"field":"yb","type":"quantitative"}}},
{"transform":[{"filter":"datum.k=='b'"}],"mark":"rule","encoding":{"x":{"field":"gi","type":"quantitative"},"y":{"field":"yb","type":"quantitative"},"y2":{"field":"yt"}}},
{"transform":[{"filter":"datum.t"}],"mark":"text","encoding":{"x":{"field":"gi","type":"quantitative"},"y":{"field":"yb","type":"quantitative"},"text":{"field":"t"}}}]},
{"width":178,"height":142,"data":{"name":"d14"},"layer":[
{"transform":[{"filter":"datum.k=='v'"}],"mark":{"type":"area","orient":"horizontal"},"encoding":{"y":{"field":"y","type":"quantitative","scale":{"domain":[-6.78,8.4],"nice":false,"zero":false},"axis":{"values":[-4,0,4,8],"title":"miR−382−5p"}},"x":{"field":"l","type":"quantitative","scale":{"domain":[0.4,3.6],"nice":false,"zero":false},"axis":{"values":[1,2,3],"labelExpr":"datum.value==1?'NP':datum.value==2?'BPL':'CP'","title":null}},"x2":{"field":"r"},"fill":{"field":"g","type":"nominal","title":null,"scale":{"domain":["NP","BPL","CP"],"range":["#FCCB98","#CBBDE0","#9AD59A"]}}}},
{"transform":[{"filter":"datum.k=='b'"}],"mark":"rule","encoding":{"x":{"field":"gi","type":"quantitative"},"y":{"field":"lo","type":"quantitative"},"y2":{"field":"hi"}}},
{"transform":[{"filter":"datum.k=='b'"}],"mark":"bar","encoding":{"x":{"field":"gi","type":"quantitative"},"y":{"field":"q1","type":"quantitative"},"y2":{"field":"q3"}}},
{"transform":[{"filter":"datum.k=='b'"}],"mark":{"type":"tick","orient":"horizontal","size":11},"encoding":{"x":{"field":"gi","type":"quantitative"},"y":{"field":"md","type":"quantitative"}}},
{"transform":[{"filter":"datum.k=='o'"}],"mark":"circle","encoding":{"x":{"field":"gi","type":"quantitative"},"y":{"field":"y","type":"quantitative"}}},
{"transform":[{"filter":"datum.k=='b'"}],"mark":"line","encoding":{"x":{"field":"gi","type":"quantitative"},"y":{"field":"yb","type":"quantitative"}}},
{"transform":[{"filter":"datum.k=='b'"}],"mark":"rule","encoding":{"x":{"field":"gi","type":"quantitative"},"y":{"field":"yb","type":"quantitative"},"y2":{"field":"yt"}}},
{"transform":[{"filter":"datum.t"}],"mark":"text","encoding":{"x":{"field":"gi","type":"quantitative"},"y":{"field":"yb","type":"quantitative"},"text":{"field":"t"}}}]},
{"width":165,"height":142,"data":{"name":"d15"},"layer":[
{"transform":[{"filter":"datum.k=='v'"}],"mark":{"type":"area","orient":"horizontal"},"encoding":{"y":{"field":"y","type":"quantitative","scale":{"domain":[-0.5,10.36],"nice":false,"zero":false},"axis":{"values":[0,2.5,5,7.5,10],"format":".1f","title":"miR−484"}},"x":{"field":"l","type":"quantitative","scale":{"domain":[0.4,3.6],"nice":false,"zero":false},"axis":{"values":[1,2,3],"labelExpr":"datum.value==1?'NP':datum.value==2?'BPL':'CP'","title":null}},"x2":{"field":"r"},"fill":{"field":"g","type":"nominal","title":null,"scale":{"domain":["NP","BPL","CP"],"range":["#FCCB98","#CBBDE0","#9AD59A"]}}}},
{"transform":[{"filter":"datum.k=='b'"}],"mark":"rule","encoding":{"x":{"field":"gi","type":"quantitative"},"y":{"field":"lo","type":"quantitative"},"y2":{"field":"hi"}}},
{"transform":[{"filter":"datum.k=='b'"}],"mark":"bar","encoding":{"x":{"field":"gi","type":"quantitative"},"y":{"field":"q1","type":"quantitative"},"y2":{"field":"q3"}}},
{"transform":[{"filter":"datum.k=='b'"}],"mark":{"type":"tick","orient":"horizontal","size":11},"encoding":{"x":{"field":"gi","type":"quantitative"},"y":{"field":"md","type":"quantitative"}}},
{"transform":[{"filter":"datum.k=='o'"}],"mark":"circle","encoding":{"x":{"field":"gi","type":"quantitative"},"y":{"field":"y","type":"quantitative"}}},
{"transform":[{"filter":"datum.k=='b'"}],"mark":"line","encoding":{"x":{"field":"gi","type":"quantitative"},"y":{"field":"yb","type":"quantitative"}}},
{"transform":[{"filter":"datum.k=='b'"}],"mark":"rule","encoding":{"x":{"field":"gi","type":"quantitative"},"y":{"field":"yb","type":"quantitative"},"y2":{"field":"yt"}}},
{"transform":[{"filter":"datum.t"}],"mark":"text","encoding":{"x":{"field":"gi","type":"quantitative"},"y":{"field":"yb","type":"quantitative"},"text":{"field":"t"}}}]},
{"width":166,"height":142,"data":{"name":"d16"},"layer":[
{"transform":[{"filter":"datum.k=='v'"}],"mark":{"type":"area","orient":"horizontal"},"encoding":{"y":{"field":"y","type":"quantitative","scale":{"domain":[-0.6,11.23],"nice":false,"zero":false},"axis":{"values":[0,3,6,9],"title":"miR−486−5p"}},"x":{"field":"l","type":"quantitative","scale":{"domain":[0.4,3.6],"nice":false,"zero":false},"axis":{"values":[1,2,3],"labelExpr":"datum.value==1?'NP':datum.value==2?'BPL':'CP'","title":null}},"x2":{"field":"r"},"fill":{"field":"g","type":"nominal","title":null,"scale":{"domain":["NP","BPL","CP"],"range":["#FCCB98","#CBBDE0","#9AD59A"]}}}},
{"transform":[{"filter":"datum.k=='b'"}],"mark":"rule","encoding":{"x":{"field":"gi","type":"quantitative"},"y":{"field":"lo","type":"quantitative"},"y2":{"field":"hi"}}},
{"transform":[{"filter":"datum.k=='b'"}],"mark":"bar","encoding":{"x":{"field":"gi","type":"quantitative"},"y":{"field":"q1","type":"quantitative"},"y2":{"field":"q3"}}},
{"transform":[{"filter":"datum.k=='b'"}],"mark":{"type":"tick","orient":"horizontal","size":11},"encoding":{"x":{"field":"gi","type":"quantitative"},"y":{"field":"md","type":"quantitative"}}},
{"transform":[{"filter":"datum.k=='b'"}],"mark":"line","encoding":{"x":{"field":"gi","type":"quantitative"},"y":{"field":"yb","type":"quantitative"}}},
{"transform":[{"filter":"datum.k=='b'"}],"mark":"rule","encoding":{"x":{"field":"gi","type":"quantitative"},"y":{"field":"yb","type":"quantitative"},"y2":{"field":"yt"}}},
{"transform":[{"filter":"datum.t"}],"mark":"text","encoding":{"x":{"field":"gi","type":"quantitative"},"y":{"field":"yb","type":"quantitative"},"text":{"field":"t"}}}]},
{"width":160,"height":142,"data":{"name":"d17"},"layer":[
{"transform":[{"filter":"datum.k=='v'"}],"mark":{"type":"area","orient":"horizontal"},"encoding":{"y":{"field":"y","type":"quantitative","scale":{"domain":[-2.44,12.03],"nice":false,"zero":false},"axis":{"values":[0,4,8],"title":"miR−1180−3p"}},"x":{"field":"l","type":"quantitative","scale":{"domain":[0.4,3.6],"nice":false,"zero":false},"axis":{"values":[1,2,3],"labelExpr":"datum.value==1?'NP':datum.value==2?'BPL':'CP'","title":null}},"x2":{"field":"r"},"fill":{"field":"g","type":"nominal","title":null,"scale":{"domain":["NP","BPL","CP"],"range":["#FCCB98","#CBBDE0","#9AD59A"]}}}},
{"transform":[{"filter":"datum.k=='b'"}],"mark":"rule","encoding":{"x":{"field":"gi","type":"quantitative"},"y":{"field":"lo","type":"quantitative"},"y2":{"field":"hi"}}},
{"transform":[{"filter":"datum.k=='b'"}],"mark":"bar","encoding":{"x":{"field":"gi","type":"quantitative"},"y":{"field":"q1","type":"quantitative"},"y2":{"field":"q3"}}},
{"transform":[{"filter":"datum.k=='b'"}],"mark":{"type":"tick","orient":"horizontal","size":11},"encoding":{"x":{"field":"gi","type":"quantitative"},"y":{"field":"md","type":"quantitative"}}},
{"transform":[{"filter":"datum.k=='b'"}],"mark":"line","encoding":{"x":{"field":"gi","type":"quantitative"},"y":{"field":"yb","type":"quantitative"}}},
{"transform":[{"filter":"datum.k=='b'"}],"mark":"rule","encoding":{"x":{"field":"gi","type":"quantitative"},"y":{"field":"yb","type":"quantitative"},"y2":{"field":"yt"}}},
{"transform":[{"filter":"datum.t"}],"mark":"text","encoding":{"x":{"field":"gi","type":"quantitative"},"y":{"field":"yb","type":"quantitative"},"text":{"field":"t"}}}]},
{"width":164,"height":142,"data":{"name":"d18"},"layer":[
{"transform":[{"filter":"datum.k=='v'"}],"mark":{"type":"area","orient":"horizontal"},"encoding":{"y":{"field":"y","type":"quantitative","scale":{"domain":[-0.44,8.66],"nice":false,"zero":false},"axis":{"values":[0,2,4,6,8],"title":"miR−2110"}},"x":{"field":"l","type":"quantitative","scale":{"domain":[0.4,3.6],"nice":false,"zero":false},"axis":{"values":[1,2,3],"labelExpr":"datum.value==1?'NP':datum.value==2?'BPL':'CP'","title":null}},"x2":{"field":"r"},"fill":{"field":"g","type":"nominal","title":null,"scale":{"domain":["NP","BPL","CP"],"range":["#FCCB98","#CBBDE0","#9AD59A"]}}}},
{"transform":[{"filter":"datum.k=='b'"}],"mark":"rule","encoding":{"x":{"field":"gi","type":"quantitative"},"y":{"field":"lo","type":"quantitative"},"y2":{"field":"hi"}}},
{"transform":[{"filter":"datum.k=='b'"}],"mark":"bar","encoding":{"x":{"field":"gi","type":"quantitative"},"y":{"field":"q1","type":"quantitative"},"y2":{"field":"q3"}}},
{"transform":[{"filter":"datum.k=='b'"}],"mark":{"type":"tick","orient":"horizontal","size":11},"encoding":{"x":{"field":"gi","type":"quantitative"},"y":{"field":"md","type":"quantitative"}}},
{"transform":[{"filter":"datum.k=='o'"}],"mark":"circle","encoding":{"x":{"field":"gi","type":"quantitative"},"y":{"field":"y","type":"quantitative"}}},
{"transform":[{"filter":"datum.k=='b'"}],"mark":"line","encoding":{"x":{"field":"gi","type":"quantitative"},"y":{"field":"yb","type":"quantitative"}}},
{"transform":[{"filter":"datum.k=='b'"}],"mark":"rule","encoding":{"x":{"field":"gi","type":"quantitative"},"y":{"field":"yb","type":"quantitative"},"y2":{"field":"yt"}}},
{"transform":[{"filter":"datum.t"}],"mark":"text","encoding":{"x":{"field":"gi","type":"quantitative"},"y":{"field":"yb","type":"quantitative"},"text":{"field":"t"}}}]}
]
}
